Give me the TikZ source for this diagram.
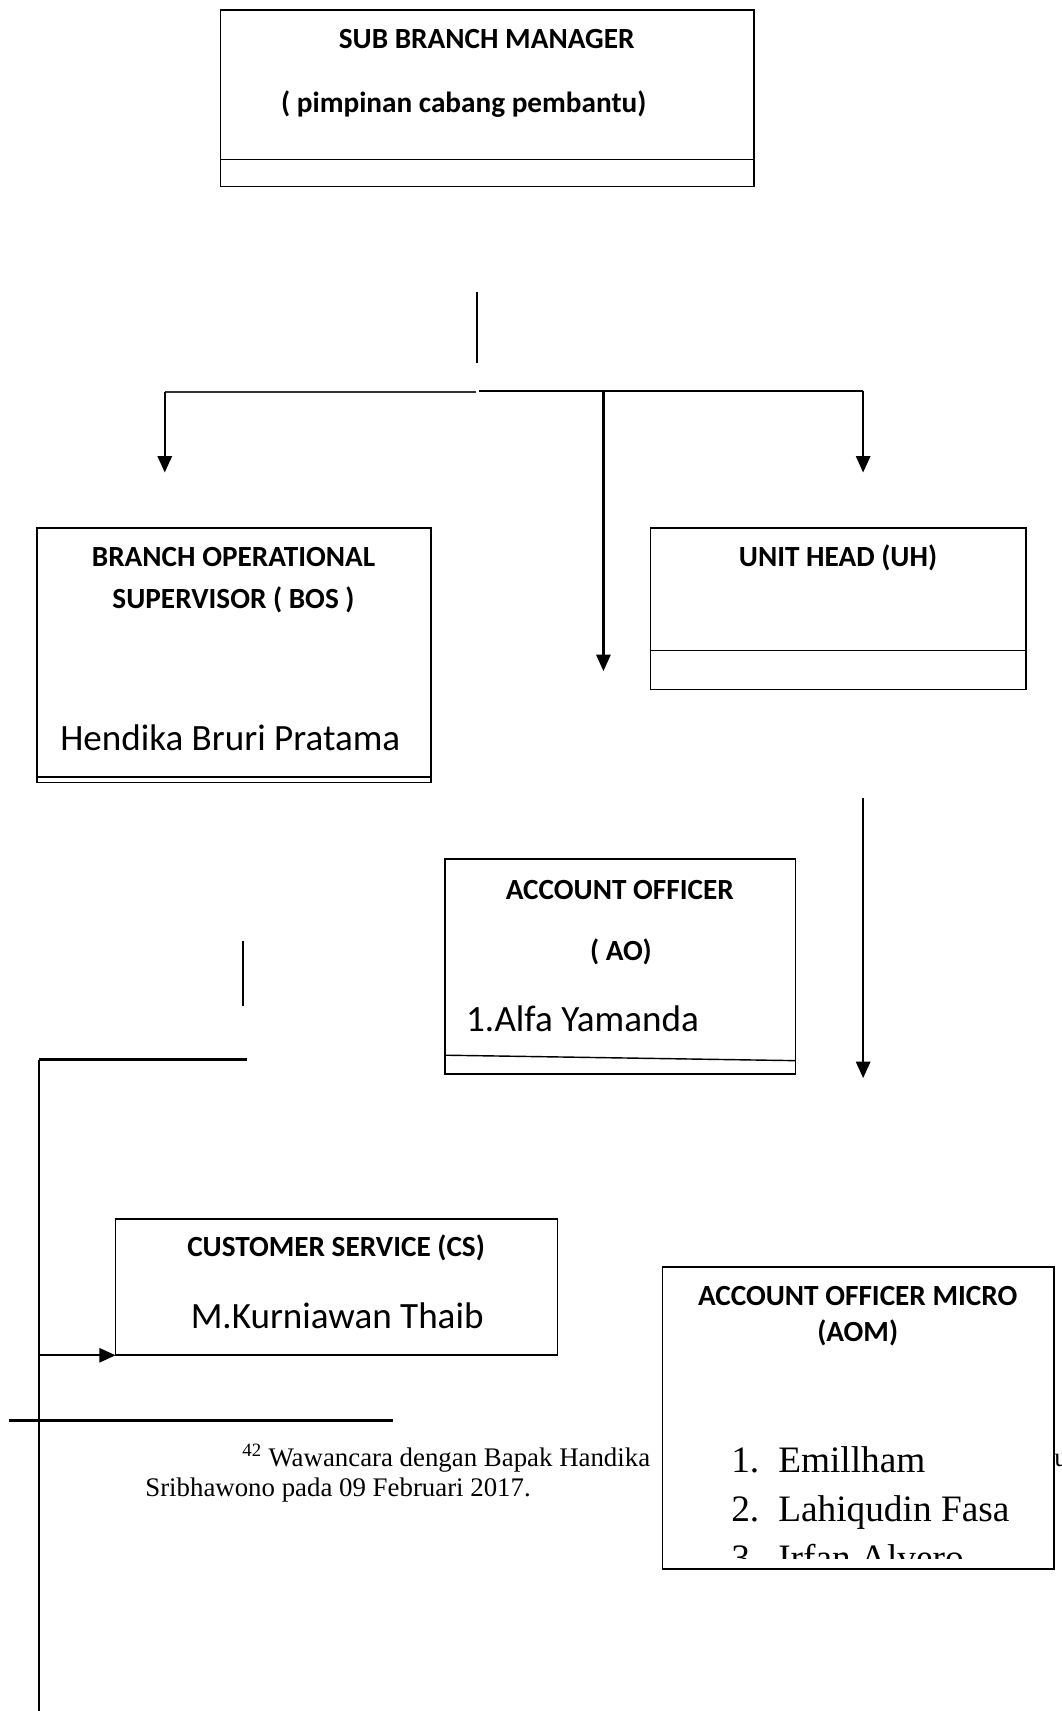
\documentclass[tikz,border=0pt]{standalone}
\usepackage{fontspec}
\setmainfont{Carlito}
\newfontfamily\tnr{Liberation Serif}
\usetikzlibrary{arrows.meta}
\begin{document}
\begin{tikzpicture}[x=1pt,y=-1pt,
  box/.style={draw, line width=1.5pt, fill=white, inner sep=0pt, outer sep=0pt, anchor=north west},
  divline/.style={line width=1.3pt},
  hd/.style={font=\fontsize{26.8}{32}\selectfont\bfseries, anchor=base, inner sep=0pt},
  nm/.style={font=\fontsize{34}{40}\selectfont, anchor=base, inner sep=0pt},
  lst/.style={font=\tnr\fontsize{34.2}{40}\selectfont, anchor=base west, inner sep=0pt},
  fn/.style={font=\tnr\fontsize{24.6}{28}\selectfont, anchor=base west, inner sep=0pt},
  conn/.style={line width=2pt},
  arr/.style={conn, -{Triangle[length=15pt,width=13pt]}}]
\useasboundingbox (0,0) rectangle (973,1568);

% ---------- boxes ----------
\node[box, minimum width=489pt, minimum height=162pt] (sbm) at (202,9) {};
\draw[divline] ([yshift=25pt]sbm.south west) -- ([yshift=25pt]sbm.south east);
\node[hd] (sbmt1) at (446,44.6) {SUB BRANCH MANAGER};
\node[hd] (sbmt2) at (425,103) {( pimpinan cabang pembantu)};

\node[box, minimum width=361pt, minimum height=233pt] (bos) at (34,484) {};
\draw[divline] ([yshift=5pt]bos.south west) -- ([yshift=5pt]bos.south east);
\node[hd] (bost1) at (214,519.6) {BRANCH OPERATIONAL};
\node[hd] (bost2) at (214,557.6) {SUPERVISOR ( BOS )};
\node[nm] (bosn) at (211,688) {Hendika Bruri Pratama};

\node[box, minimum width=344pt, minimum height=148pt] (uh) at (596,484) {};
\draw[divline] ([yshift=36pt]uh.south west) -- ([yshift=36pt]uh.south east);
\node[hd] (uht) at (768,519.6) {UNIT HEAD (UH)};

\node[box, minimum width=321pt, minimum height=197pt] (ao) at (408,787) {};
\draw[divline] ([yshift=17pt]ao.south west) -- ([yshift=12pt]ao.south east);
\node[hd] (aot1) at (568,824.6) {ACCOUNT OFFICER};
\node[hd] (aot2) at (569,880.6) {( AO)};
\node[nm, anchor=base west] (aon) at (427,945) {1.Alfa Yamanda};

\node[box, minimum width=405pt, minimum height=125pt] (cs) at (106,1117) {};
\node[hd] (cst) at (308,1151.6) {CUSTOMER SERVICE (CS)};
\node[nm] (csn) at (309,1217) {M.Kurniawan Thaib};

% ---------- footnote ----------
\coordinate (f1) at (8,1302);
\coordinate (f2) at (360,1302);
\draw[line width=3pt] (f1) -- (f2);
\node[fn] (fn1) at (222,1344) {\textsuperscript{42} Wawancara dengan Bapak Handika};
\node[fn] (fn2) at (133,1371) {Sribhawono pada 09 Februari 2017.};
\node[fn] (fnu) at (966,1344) {u};

% ---------- AOM ----------
\node[box, minimum width=359pt, minimum height=277pt] (aom) at (607,1161) {};
\node[hd] (aomt1) at (786,1196.6) {ACCOUNT OFFICER MICRO};
\node[hd] (aomt2) at (786,1229.6) {(AOM)};
\begin{scope}
\clip ([xshift=1pt,yshift=-1pt]aom.north west) rectangle ([xshift=-1pt,yshift=10pt]aom.south east);
\node[lst] (l1n) at (670,1349) {1.};
\node[lst] (l1) at (713,1349) {Emillham};
\node[lst] (l2n) at (670,1394) {2.};
\node[lst] (l2) at (713,1394) {Lahiqudin Fasa};
\node[lst] (l3n) at (670,1439) {3.};
\node[lst] (l3) at (713,1439) {Irfan Alvero};
\end{scope}

% ---------- connectors ----------
\coordinate (t1) at (437,268);
\coordinate (t2) at (437,333);
\draw[line width=1.6pt] (t1) -- (t2);

\coordinate (hl) at (151,359);
\coordinate (hm) at (436,359);
\coordinate (hm2) at (439,358);
\coordinate (hmid) at (553,358);
\coordinate (hr) at (791,358);
\draw[line width=1.6pt, black!80] (hl) -- (hm);
\draw[conn] (hm2) -- (hr);

\coordinate (al) at (151,433);
\coordinate (am) at (553,615);
\coordinate (ar) at (791,433);
\draw[arr] (hl) -- (al);
\draw[arr] (hmid) -- (am);
\draw[arr] (hr) -- (ar);

\coordinate (u1) at (791,731);
\coordinate (u2) at (791,988);
\draw[arr] (u1) -- (u2);

\coordinate (s1) at (223,862);
\coordinate (s2) at (223,922);
\draw[conn] (s1) -- (s2);

\coordinate (h1) at (36,971);
\coordinate (h2) at (226,971);
\coordinate (vb) at (36,1568);
\draw[conn] (h1) -- (h2);
\draw[conn] (h1) -- (vb);

\coordinate (ca) at (36,1242);
\draw[arr] (ca) -- (cs.south west);
\end{tikzpicture}
\end{document}
